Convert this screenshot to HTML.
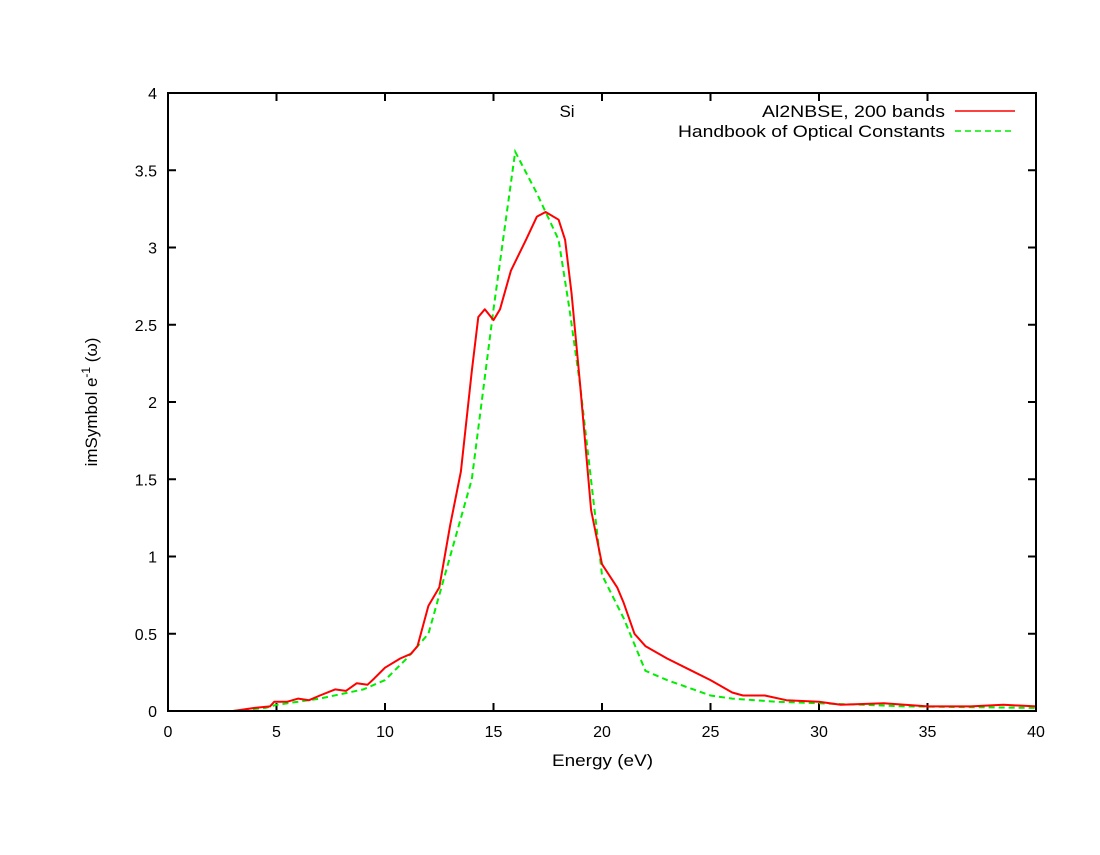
<!DOCTYPE html>
<html><head><meta charset="utf-8"><style>
body{margin:0;background:#fff}
text{font-family:"Liberation Sans",sans-serif;font-size:16px;fill:#000}
.b{font-size:17px}
</style></head><body>
<svg id="s" width="1100" height="850" xmlns="http://www.w3.org/2000/svg">
<rect x="0" y="0" width="1100" height="850" fill="#fff"/>
<g id="ticks" stroke="#000" stroke-width="2"></g>
<g id="labels"></g>
<polyline id="g" fill="none" stroke="#00ee00" stroke-width="2" stroke-dasharray="6,4"/>
<polyline id="r" fill="none" stroke="#ff0000" stroke-width="2" stroke-linejoin="round"/>
<rect x="168" y="93" width="868" height="618" fill="none" stroke="#000" stroke-width="2"/>
<text class="b" x="567" y="117" text-anchor="middle">Si</text>
<text class="b" x="762" y="117" textLength="183" lengthAdjust="spacingAndGlyphs">Al2NBSE, 200 bands</text>
<line x1="955" y1="111" x2="1015" y2="111" stroke="#ff0000" stroke-width="1.5"/>
<text class="b" x="678" y="137" textLength="267" lengthAdjust="spacingAndGlyphs">Handbook of Optical Constants</text>
<line x1="955" y1="131" x2="1015" y2="131" stroke="#00ee00" stroke-width="1.5" stroke-dasharray="6,4"/>
<text class="b" x="552" y="766" textLength="101" lengthAdjust="spacingAndGlyphs">Energy (eV)</text>
<text class="b" transform="translate(97,402) rotate(-90)" text-anchor="middle">imSymbol e<tspan dy="-7" font-size="12">-1</tspan><tspan dy="7"> (ω)</tspan></text>
</svg>
<script>
var X=function(e){return 168+e*21.7},Y=function(v){return 711-v*154.5};
var r=[[3,0],[4,0.02],[4.7,0.03],[4.9,0.06],[5.5,0.06],[6,0.08],[6.5,0.07],[7,0.1],[7.7,0.14],[8.2,0.13],[8.7,0.18],[9.2,0.17],[9.5,0.21],[10,0.28],[10.7,0.34],[11.2,0.37],[11.5,0.42],[12,0.68],[12.5,0.8],[13,1.2],[13.5,1.55],[14,2.2],[14.3,2.55],[14.6,2.6],[15,2.53],[15.3,2.6],[15.8,2.85],[16.5,3.05],[17,3.2],[17.4,3.23],[18,3.18],[18.3,3.05],[18.6,2.7],[19,2.1],[19.5,1.3],[20,0.95],[20.7,0.8],[21,0.7],[21.5,0.5],[22,0.42],[23,0.34],[24,0.27],[25,0.2],[26,0.12],[26.5,0.1],[27.5,0.1],[28.5,0.07],[30,0.06],[31,0.04],[33,0.05],[35,0.03],[37,0.03],[38.5,0.04],[40,0.03]];
var g=[[3,0],[4.5,0.02],[5,0.04],[6,0.06],[7,0.08],[8,0.11],[9,0.14],[10,0.2],[11,0.34],[12,0.5],[13,1.0],[14,1.5],[15,2.6],[16,3.62],[17,3.35],[18,3.05],[18.5,2.6],[19,2.1],[20,0.88],[21,0.6],[22,0.26],[23,0.2],[24,0.15],[25,0.1],[26,0.08],[28,0.06],[30,0.05],[32,0.04],[34,0.03],[40,0.02]];
function pts(a){return a.map(function(p){return X(p[0]).toFixed(1)+","+Y(p[1]).toFixed(1)}).join(" ")}
document.getElementById("r").setAttribute("points",pts(r));
document.getElementById("g").setAttribute("points",pts(g));
var t=document.getElementById("ticks"),l=document.getElementById("labels"),h="",k="";
for(var e=0;e<=40;e+=5){var x=X(e);h+='<line x1="'+x+'" y1="711" x2="'+x+'" y2="703"/><line x1="'+x+'" y1="93" x2="'+x+'" y2="101"/>';k+='<text x="'+x+'" y="737" text-anchor="middle">'+e+'</text>';}
for(var v=0;v<=4;v+=0.5){var y=Y(v);h+='<line x1="168" y1="'+y+'" x2="176" y2="'+y+'"/><line x1="1036" y1="'+y+'" x2="1028" y2="'+y+'"/>';k+='<text x="157" y="'+(y+6)+'" text-anchor="end">'+v+'</text>';}
t.innerHTML=h;l.innerHTML=k;
</script>
</body></html>
